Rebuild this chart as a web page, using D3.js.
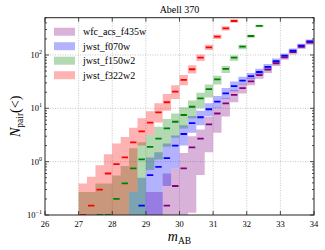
<!DOCTYPE html>
<html><head><meta charset="utf-8">
<script src="https://cdn.jsdelivr.net/npm/d3@7"></script>
<style>body{margin:0;background:#fff}svg{display:block}</style>
</head><body>
<svg id="c" width="325" height="250"></svg>
<script>
const title = "Abell 370";
const xTicks = [26, 27, 28, 29, 30, 31, 32, 33, 34];
const yTicks = [0.1, 1, 10, 100];
const yTickExp = ["−1", "0", "1", "2"];
const binWidth = 0.25;

// bin starts (mag) and values for each filter
const names = ["wfc_acs_f435w", "jwst_f070w", "jwst_f150w2", "jwst_f322w2"];
const colors = ["#800080", "#0000ff", "#008000", "#ff0000"];

const purpleStart = [29.00,29.25,29.50,29.75,30.00,30.25,30.50,30.75,31.00,31.25,31.50,31.75,32.00,32.25,32.50,32.75,33.00,33.25,33.50,33.75];
const purpleMed = [0.05,0.05,0.15,0.35,0.75,1.85,2.7,5.0,8.0,12.4,17.8,24,32,42,53,70,90,113,142,170];
const purpleLo  = [0.01,0.01,0.01,0.01,0.01,0.11,0.56,1.5,3.5,7.0,13,19,27,36,46,62,81,102,130,156];
const purpleHi  = [0.27,0.27,0.6,0.75,1.45,3.0,4.0,7.0,10.5,15.5,22,29,38,49,61,79,100,125,156,186];

const blueStart = [28.50,28.75,29.00,29.25,29.50,29.75,30.00,30.25,30.50,30.75,31.00,31.25,31.50,31.75,32.00,32.25,32.50,32.75,33.00,33.25,33.50,33.75];
const blueMed = [0.05,0.15,0.56,0.8,1.16,2.0,3.3,5.3,6.8,9.6,13.3,19,26,33,40,48,60,77,97,120,150,180];
const blueLo  = [0.01,0.01,0.01,0.01,0.35,0.75,2.0,3.5,4.8,7.2,10.3,15,21,28,35,42,53,69,88,109,138,166];
const blueHi  = [0.27,0.5,1.2,1.5,2.2,3.1,4.8,7.2,9.0,12.5,17,24,32,39,46,55,68,86,107,132,163,195];

const greenStart = [27.00,27.25,27.50,27.75,28.00,28.25,28.50,28.75,29.00,29.25,29.50,29.75,30.00,30.25,30.50,30.75,31.00,31.25,31.50,31.75,32.00,32.25];
const greenMed = [0.05,0.05,0.1,0.1,0.2,0.39,0.75,1.1,1.9,2.7,4.2,5.6,7.5,10.7,15.4,23,35,55,89,143,227,350];
const greenLo  = [0.01,0.01,0.01,0.01,0.01,0.01,0.01,0.01,0.7,1.1,1.9,2.8,4.2,6.5,10,16,28,46,78,128,210,330];
const greenHi  = [0.27,0.27,0.39,0.39,0.55,0.83,1.78,2.3,3.2,4.5,6.3,8.0,10.5,14,19.5,28,41,62,98,155,240,370];

const redStart = [27.00,27.25,27.50,27.75,28.00,28.25,28.50,28.75,29.00,29.25,29.50,29.75,30.00,30.25,30.50,30.75,31.00,31.25,31.50];
const redMed = [0.1,0.15,0.3,0.6,0.9,1.2,2.3,3.7,5.4,8.4,13,20.5,34,54,89,139,220,316,434];
const redLo  = [0.01,0.01,0.01,0.01,0.01,0.01,0.27,2.0,3.2,5.4,9,15,27,45,77,124,199,289,400];
const redHi  = [0.39,0.52,0.86,1.37,2.2,2.9,4.3,6.5,8.8,12.5,18.5,27,42,64,102,156,243,345,470];

const series = [
  {start: purpleStart, med: purpleMed, lo: purpleLo, hi: purpleHi},
  {start: blueStart, med: blueMed, lo: blueLo, hi: blueHi},
  {start: greenStart, med: greenMed, lo: greenLo, hi: greenHi},
  {start: redStart, med: redMed, lo: redLo, hi: redHi}
];

const L = 45, R = 314, T = 17.7, B = 215;
const x = d3.scaleLinear().domain([26, 34]).range([L, R]);
const y = d3.scaleLog().domain([0.1, 500]).range([B, T]);

const svg = d3.select("#c");
const serif = "'Liberation Serif','DejaVu Serif',serif";

svg.append("defs").append("clipPath").attr("id", "clip")
  .append("rect").attr("x", L).attr("y", T).attr("width", R - L).attr("height", B - T);

// grid
const grid = svg.append("g");
xTicks.slice(1, -1).forEach(v => grid.append("line")
  .attr("x1", x(v)).attr("x2", x(v)).attr("y1", T).attr("y2", B)
  .attr("stroke", "#b8b8b8").attr("stroke-width", 0.8).attr("stroke-dasharray", "1,1.5"));
yTicks.slice(1).forEach(v => grid.append("line")
  .attr("x1", L).attr("x2", R).attr("y1", y(v)).attr("y2", y(v))
  .attr("stroke", "#b8b8b8").attr("stroke-width", 0.8).attr("stroke-dasharray", "1,1.5"));

const plot = svg.append("g").attr("clip-path", "url(#clip)");

series.forEach((s, i) => {
  const pts = s.start.map((m, k) => ({m, lo: s.lo[k], hi: s.hi[k]}));
  const last = pts[pts.length - 1];
  pts.push({m: last.m + binWidth, lo: last.lo, hi: last.hi});
  const area = d3.area().curve(d3.curveStepAfter)
    .x(d => x(d.m)).y0(d => y(d.lo)).y1(d => y(d.hi));
  plot.append("path").attr("d", area(pts))
    .attr("fill", colors[i]).attr("fill-opacity", 0.3);
});
series.forEach((s, i) => {
  plot.selectAll(null).data(s.start.map((m, k) => ({m, v: s.med[k]}))).join("line")
    .attr("x1", d => x(d.m + 0.03)).attr("x2", d => x(d.m + 0.22))
    .attr("y1", d => y(d.v)).attr("y2", d => y(d.v))
    .attr("stroke", colors[i]).attr("stroke-width", 1.8);
});

// frame
svg.append("rect").attr("x", L).attr("y", T).attr("width", R - L).attr("height", B - T)
  .attr("fill", "none").attr("stroke", "#222").attr("stroke-width", 1);

// ticks (inward, all sides)
const tk = svg.append("g").attr("stroke", "#222").attr("stroke-width", 0.8);
xTicks.forEach(v => {
  tk.append("line").attr("x1", x(v)).attr("x2", x(v)).attr("y1", B).attr("y2", B - 4);
  tk.append("line").attr("x1", x(v)).attr("x2", x(v)).attr("y1", T).attr("y2", T + 4);
});
const minorY = [];
[0.1, 1, 10, 100].forEach(d => { for (let k = 2; k <= 9; k++) if (d * k <= 500) minorY.push(d * k); });
yTicks.forEach(v => {
  tk.append("line").attr("x1", L).attr("x2", L + 4).attr("y1", y(v)).attr("y2", y(v));
  tk.append("line").attr("x1", R).attr("x2", R - 4).attr("y1", y(v)).attr("y2", y(v));
});
minorY.forEach(v => {
  tk.append("line").attr("x1", L).attr("x2", L + 2).attr("y1", y(v)).attr("y2", y(v));
  tk.append("line").attr("x1", R).attr("x2", R - 2).attr("y1", y(v)).attr("y2", y(v));
});

// tick labels
xTicks.forEach(v => svg.append("text").attr("x", x(v)).attr("y", B + 12)
  .attr("text-anchor", "middle").attr("font-family", serif).attr("font-size", 8.5).text(v));
yTicks.forEach((v, k) => {
  const t = svg.append("text").attr("x", L - 3).attr("y", y(v) + 3)
    .attr("text-anchor", "end").attr("font-family", serif).attr("font-size", 8.5);
  t.append("tspan").text("10");
  t.append("tspan").attr("dy", -4).attr("font-size", 6).text(yTickExp[k]);
});

// title
svg.append("text").attr("x", (L + R) / 2).attr("y", 13).attr("text-anchor", "middle")
  .attr("font-family", serif).attr("font-size", 10).text(title);

// x label
const xl = svg.append("text").attr("x", (L + R) / 2).attr("y", 241).attr("text-anchor", "middle")
  .attr("font-family", serif);
xl.append("tspan").attr("font-style", "italic").attr("font-size", 14).text("m");
xl.append("tspan").attr("font-size", 9.5).attr("dy", 3).text("AB");

// y label
const yl = svg.append("text").attr("transform", `translate(20,${(T + B) / 2}) rotate(-90)`)
  .attr("text-anchor", "middle").attr("font-family", serif);
yl.append("tspan").attr("font-style", "italic").attr("font-size", 14).text("N");
yl.append("tspan").attr("font-size", 9.5).attr("dy", 3).text("pair");
yl.append("tspan").attr("font-size", 14).attr("dy", -3).text("(<)");

// legend
const lg = svg.append("g");
names.forEach((n, i) => {
  const yy = 31.7 + i * 14.5;
  lg.append("rect").attr("x", 54).attr("y", yy - 4).attr("width", 21).attr("height", 8)
    .attr("fill", colors[i]).attr("fill-opacity", 0.3);
  lg.append("text").attr("x", 83).attr("y", yy + 3.5).attr("font-family", serif)
    .attr("font-size", 10).text(n);
});
</script>
</body></html>
